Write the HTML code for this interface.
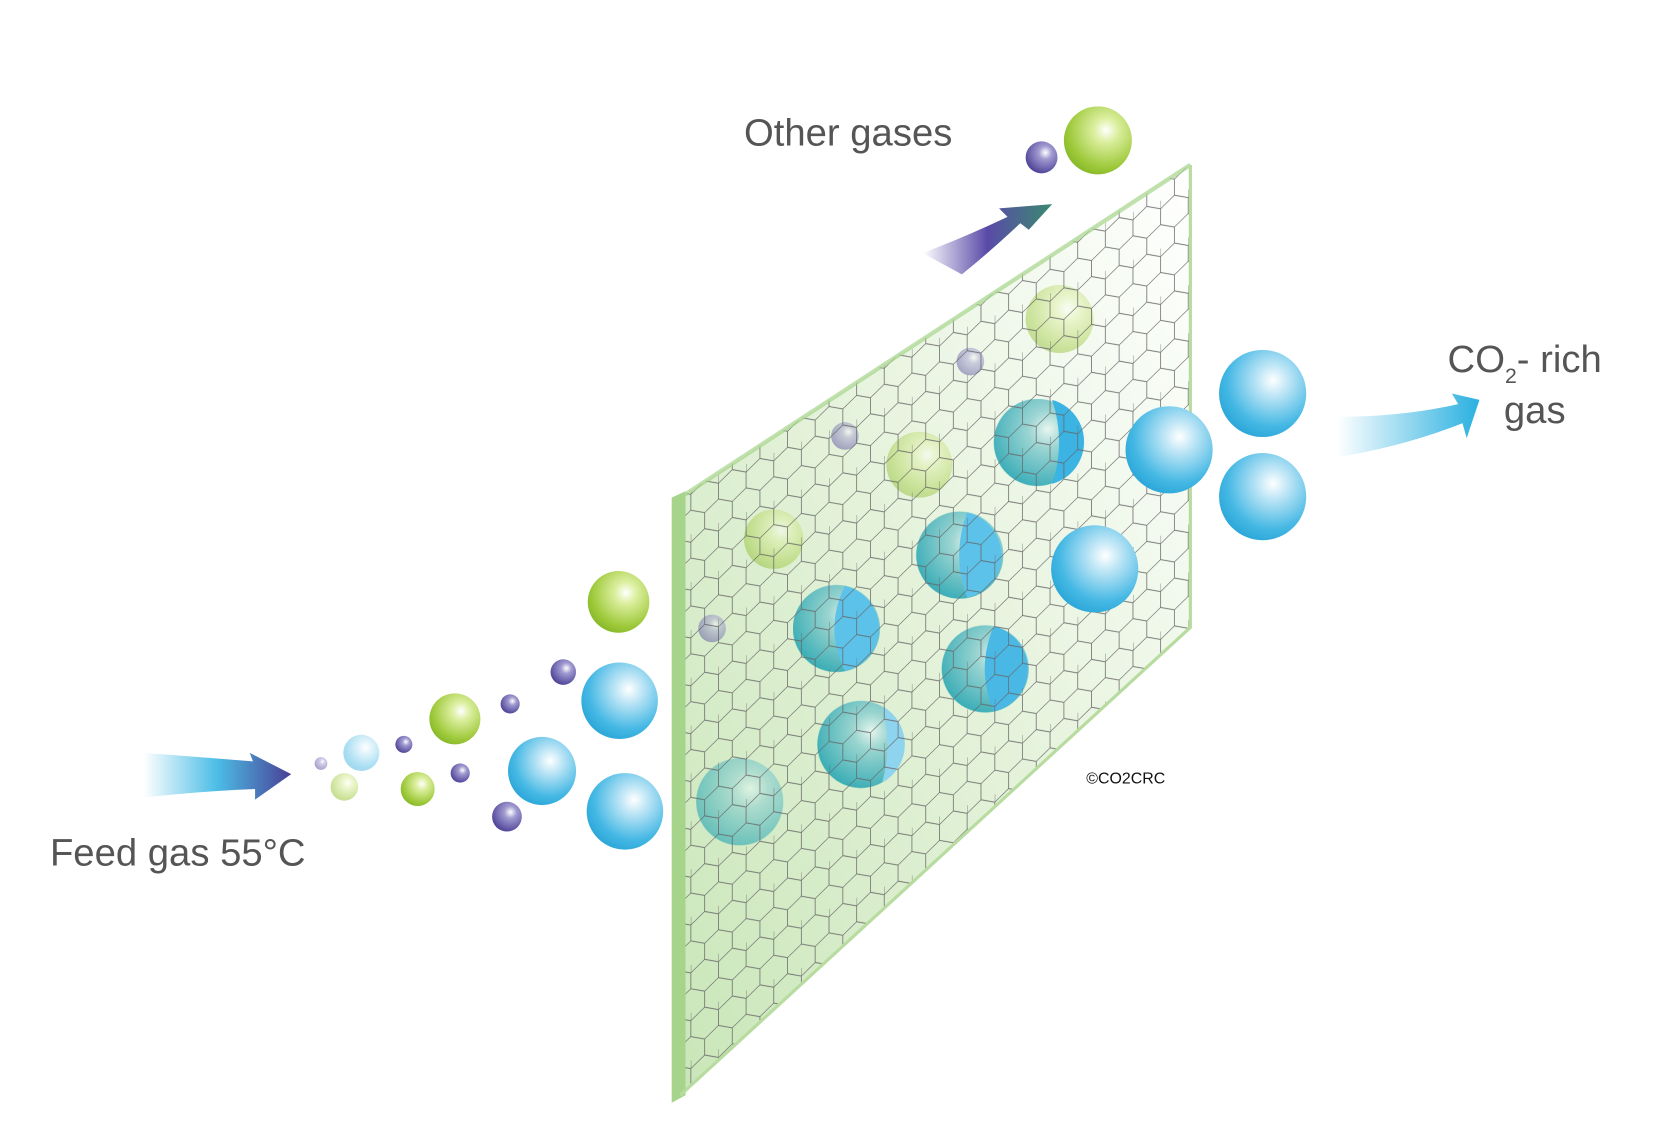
<!DOCTYPE html>
<html><head><meta charset="utf-8"><style>html,body{margin:0;padding:0;background:#fff}svg{display:block}</style></head>
<body>
<svg width="1658" height="1141" viewBox="0 0 1560 1073" preserveAspectRatio="none" xmlns="http://www.w3.org/2000/svg">
<defs>
<radialGradient id="bl" cx="0.62" cy="0.35" r="0.7"><stop offset="0" stop-color="#ffffff"/><stop offset="0.25" stop-color="#bfe6f6"/><stop offset="0.75" stop-color="#45b8e4"/><stop offset="1" stop-color="#2aa6d8"/></radialGradient>
<radialGradient id="tl" cx="0.62" cy="0.35" r="0.7"><stop offset="0" stop-color="#e6f6f2"/><stop offset="0.3" stop-color="#8fd0d0"/><stop offset="1" stop-color="#1aa0b0"/></radialGradient>
<radialGradient id="gr" cx="0.62" cy="0.35" r="0.7"><stop offset="0" stop-color="#ffffff"/><stop offset="0.25" stop-color="#dcefa0"/><stop offset="0.8" stop-color="#9cc838"/><stop offset="1" stop-color="#86b828"/></radialGradient>
<radialGradient id="pu" cx="0.62" cy="0.35" r="0.7"><stop offset="0" stop-color="#ffffff"/><stop offset="0.3" stop-color="#a09ad0"/><stop offset="1" stop-color="#4a3f96"/></radialGradient>
<linearGradient id="mem" x1="0" y1="1" x2="1" y2="0"><stop offset="0" stop-color="#c9e6b8"/><stop offset="0.5" stop-color="#e4f2da"/><stop offset="1" stop-color="#ffffff"/></linearGradient>
<linearGradient id="fa" x1="0" y1="0" x2="1" y2="0"><stop offset="0" stop-color="#fff"/><stop offset="0.5" stop-color="#4bbde6"/><stop offset="1" stop-color="#4a3f96"/></linearGradient>
<linearGradient id="oa" x1="0" y1="0" x2="1" y2="0"><stop offset="0" stop-color="#fff"/><stop offset="0.5" stop-color="#5a4aa8"/><stop offset="1" stop-color="#3a8a70"/></linearGradient>
<linearGradient id="ca" x1="0" y1="0" x2="1" y2="0"><stop offset="0" stop-color="#fff"/><stop offset="1" stop-color="#29b0e0"/></linearGradient>
<pattern id="hex" width="26" height="45" patternUnits="userSpaceOnUse" patternTransform="skewY(-22)">
<path d="M0,7.5 L13,0 L26,7.5 L26,22.5 L13,30 L0,22.5 Z M13,30 L13,45 M0,7.5 L0,-7.5" fill="none" stroke="#666" stroke-width="0.7"/>
</pattern>
<clipPath id="mc"><polygon points="640,468 1120,155 1120,590 640,1030"/></clipPath>
</defs>
<polygon points="640,468 1120,155 1120,590 640,1030" fill="url(#mem)"/>
<g opacity="0.45">
<circle cx="997" cy="300" r="32" fill="url(#gr)"/>
<circle cx="865" cy="437" r="31" fill="url(#gr)"/>
<circle cx="728" cy="507" r="28" fill="url(#gr)"/>
<circle cx="795" cy="410" r="13" fill="url(#pu)"/>
<circle cx="670" cy="591" r="13" fill="url(#pu)"/>
<circle cx="913" cy="340" r="13" fill="url(#pu)"/>
</g>
<g opacity="0.85">
<circle cx="976" cy="416" r="41" fill="url(#tl)"/>
<circle cx="903" cy="522" r="41" fill="url(#tl)"/>
<circle cx="787" cy="591" r="41" fill="url(#tl)"/>
<circle cx="927" cy="629" r="41" fill="url(#tl)"/>
<circle cx="810" cy="700" r="41" fill="url(#tl)"/>
<circle cx="696" cy="754" r="41" fill="url(#tl)" opacity="0.7"/>
</g>
<path d="M990,376 A41,41 0 0 1 990,455 Q1003,416 990,376Z" fill="#3bb3e3"/>
<path d="M910,482 A41,41 0 0 1 910,562 Q895,522 910,482Z" fill="#5cc2ea"/>
<path d="M795,551 A41,41 0 0 1 795,631 Q775,591 795,551Z" fill="#5cc2ea"/>
<path d="M935,589 A41,41 0 0 1 935,669 Q918,629 935,589Z" fill="#4ab8e5"/>
<path d="M830,664 A41,41 0 0 1 830,736 Q840,700 830,664Z" fill="#8fd4ef"/>
<rect x="600" y="100" width="600" height="1000" fill="url(#hex)" clip-path="url(#mc)"/>
<circle cx="1030" cy="535" r="41" fill="url(#bl)"/>
<polygon points="632,468 645,462 645,1030 632,1037" fill="#a6d48a"/>
<path d="M640,468 L1120,155" stroke="#a6d48a" stroke-width="4" opacity="0.7"/>
<path d="M640,1030 L1120,590 L1120,155" stroke="#b8dca0" stroke-width="3" fill="none"/>
<circle cx="1188" cy="370" r="41" fill="url(#bl)"/>
<circle cx="1100" cy="423" r="41" fill="url(#bl)"/>
<circle cx="1188" cy="467" r="41" fill="url(#bl)"/>
<circle cx="583" cy="659" r="36" fill="url(#bl)"/>
<circle cx="510" cy="725" r="32" fill="url(#bl)"/>
<circle cx="588" cy="763" r="36" fill="url(#bl)"/>
<circle cx="340" cy="708" r="17" fill="url(#bl)" opacity="0.45"/>
<circle cx="1033" cy="132" r="32" fill="url(#gr)"/>
<circle cx="582" cy="566" r="29" fill="url(#gr)"/>
<circle cx="428" cy="676" r="24" fill="url(#gr)"/>
<circle cx="393" cy="742" r="16" fill="url(#gr)"/>
<circle cx="324" cy="740" r="13" fill="url(#gr)" opacity="0.5"/>
<circle cx="980" cy="148" r="15" fill="url(#pu)"/>
<circle cx="530" cy="632" r="12" fill="url(#pu)"/>
<circle cx="480" cy="662" r="9" fill="url(#pu)"/>
<circle cx="380" cy="700" r="8" fill="url(#pu)"/>
<circle cx="433" cy="727" r="9" fill="url(#pu)"/>
<circle cx="477" cy="768" r="14" fill="url(#pu)"/>
<circle cx="302" cy="718" r="6" fill="url(#pu)" opacity="0.5"/>
<path d="M135,708 Q190,712 238,716 L235,708 L274,728 L240,752 L240,742 Q190,744 135,750 Z" fill="url(#fa)"/>
<path d="M868,238 Q910,222 948,204 L940,196 L990,192 L968,216 L960,210 Q930,238 905,258 Z" fill="url(#oa)"/>
<path d="M1258,392 Q1320,392 1372,380 L1366,370 L1392,376 L1380,412 L1376,398 Q1320,420 1258,430 Z" fill="url(#ca)"/>
<g font-family="Liberation Sans, sans-serif" fill="#555">
<text x="700" y="137" font-size="36">Other gases</text>
<text x="47" y="814" font-size="36">Feed gas  55°C</text>
<text x="1362" y="350" font-size="36">CO<tspan font-size="20" dy="10">2</tspan><tspan dy="-10">- rich</tspan></text>
<text x="1415" y="398" font-size="36">gas</text>
<text x="1022" y="737" font-size="15" fill="#111">©CO2CRC</text>
</g>
</svg>
</body></html>
